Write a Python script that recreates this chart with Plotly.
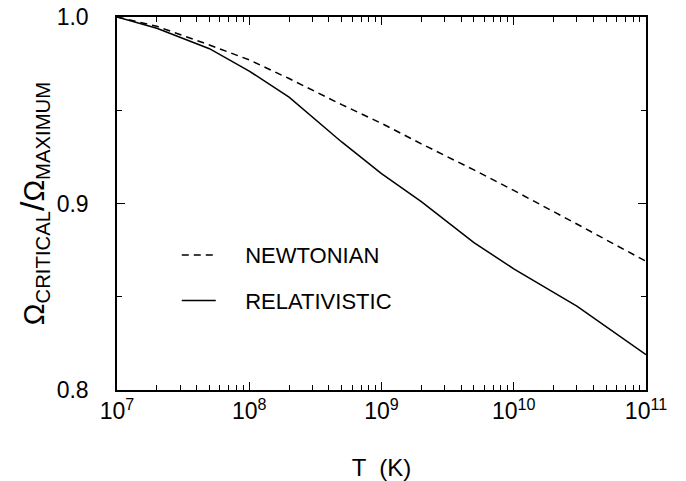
import plotly.graph_objects as go

# Data
T_newt = [1e7, 2e7, 5e7, 1e8, 2e8, 5e8, 1e9, 2e9, 5e9, 1e10, 3e10, 1e11]
om_newt = [1.000, 0.995, 0.985, 0.977, 0.967, 0.953, 0.943, 0.932, 0.918, 0.907, 0.889, 0.869]

T_rel = [1e7, 2e7, 5e7, 1e8, 2e8, 5e8, 1e9, 2e9, 5e9, 1e10, 3e10, 1e11]
om_rel = [1.000, 0.994, 0.983, 0.971, 0.957, 0.933, 0.916, 0.901, 0.879, 0.865, 0.845, 0.819]

x_tick_vals = [1e7, 1e8, 1e9, 1e10, 1e11]
x_tick_text = ["10<sup>7</sup>", "10<sup>8</sup>", "10<sup>9</sup>", "10<sup>10</sup>", "10<sup>11</sup>"]
y_tick_vals = [0.8, 0.9, 1.0]

FONT = "Liberation Sans, Arial, sans-serif"
PAD = "\u00a0\u00a0\u00a0\u00a0"

fig = go.Figure()
fig.add_trace(go.Scatter(x=T_newt, y=om_newt, mode="lines", name=PAD + "NEWTONIAN",
                         line=dict(color="black", width=1.5, dash="7px,5px"),
                         legendgroup="a"))
fig.add_trace(go.Scatter(x=T_rel, y=om_rel, mode="lines", name=PAD + "RELATIVISTIC",
                         line=dict(color="black", width=1.5),
                         legendgroup="b"))

fig.update_layout(
    width=686, height=481,
    margin=dict(l=117, r=40, t=17, b=91),
    paper_bgcolor="white", plot_bgcolor="white",
    font=dict(family=FONT, size=23, color="black"),
    showlegend=True,
    legend=dict(x=0.113, y=0.30, xanchor="left", yanchor="middle",
                bgcolor="rgba(0,0,0,0)", font=dict(size=22),
                tracegroupgap=14, traceorder="grouped", itemwidth=34),
)

fig.update_xaxes(
    type="log", range=[7, 11], automargin=False,
    tickvals=x_tick_vals, ticktext=x_tick_text, ticklabeloverflow="allow",
    ticks="inside", ticklen=8, tickwidth=1.2, tickcolor="black",
    minor=dict(ticks="inside", ticklen=5, tickwidth=1, tickcolor="black", dtick="D1", showgrid=False),
    showline=True, linecolor="black", linewidth=1.5, mirror="allticks",
    showgrid=False, zeroline=False,
    tickfont=dict(size=23),
    title=dict(text="T  (K)", font=dict(size=24), standoff=44),
)
fig.update_yaxes(
    range=[0.8, 1.0], automargin=False, tickvals=y_tick_vals, tickformat=".1f",
    ticklabeloverflow="allow",
    ticks="inside", ticklen=8, tickwidth=1.2, tickcolor="black",
    minor=dict(ticks="inside", ticklen=5, tickwidth=1, tickcolor="black", dtick=0.05, showgrid=False),
    showline=True, linecolor="black", linewidth=1.5, mirror="allticks",
    showgrid=False, zeroline=False,
    tickfont=dict(size=23), ticklabelstandoff=22,
    title=dict(text="Ω<sub>CRITICAL</sub><span style=\"font-size:34px\">/</span>Ω<sub>MAXIMUM</sub>",
               font=dict(size=29), standoff=4),
)

# remove the page's default 8px body margin so the figure fills the window exactly
fig.write_html("out.html", config={"displayModeBar": False},
               post_script="document.body.style.margin='0px';")
